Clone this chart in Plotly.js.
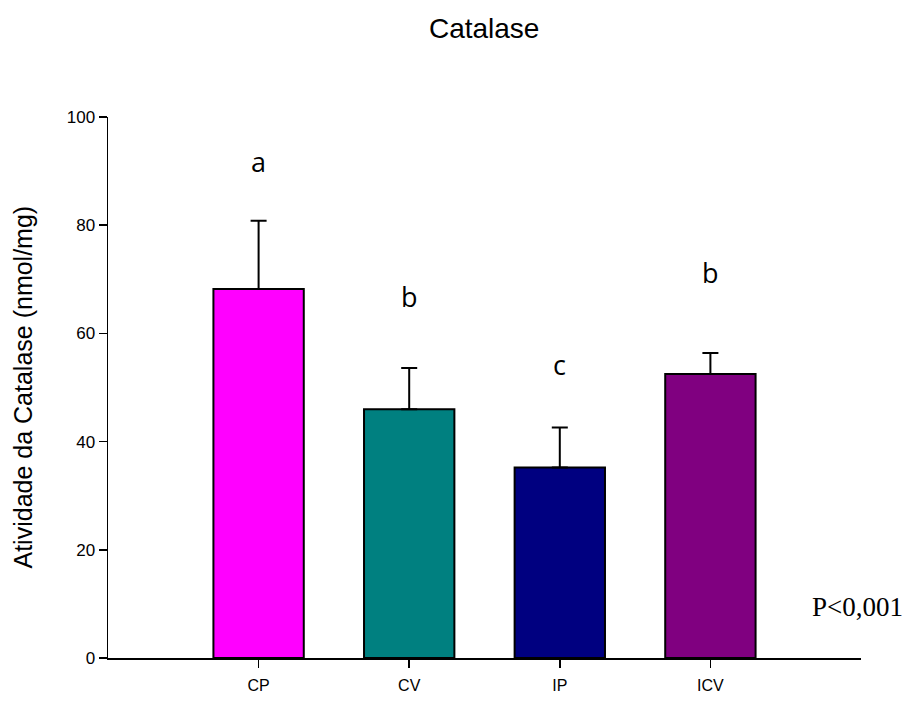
<!DOCTYPE html>
<html>
<head>
<meta charset="utf-8">
<script src="https://cdn.plot.ly/plotly-3.0.1.min.js"></script>
<style>
  html, body { margin: 0; padding: 0; background: #fff; }
  #chart { width: 905px; height: 703px; }
</style>
</head>
<body>
<div id="chart"></div>
<script>
// Catalase activity per group (mean and upper error)
const groups = ['CP', 'CV', 'IP', 'ICV'];
const activity = [68.2, 46.0, 35.2, 52.5];
const errorUp = [12.6, 7.6, 7.4, 3.9];
const barColors = ['#FF00FF', '#008080', '#000080', '#800080'];
const letters = ['a', 'b', 'c', 'b'];
const letterHeights = [91.7, 66.9, 54.3, 71.2];

const sans = 'Liberation Sans, Arial, sans-serif';

const trace = {
  type: 'bar',
  x: groups.map((g, i) => i),
  y: activity,
  width: 0.6,
  marker: { color: barColors, line: { color: '#000', width: 2 } },
  error_y: {
    type: 'data',
    symmetric: false,
    array: errorUp,
    arrayminus: groups.map(() => 0),
    color: '#000',
    thickness: 2,
    width: 8
  },
  hoverinfo: 'skip'
};

const annotations = letters.map((t, i) => ({
  x: i, y: letterHeights[i], xref: 'x', yref: 'y',
  text: t, showarrow: false,
  font: { family: 'Open Sans, Noto Sans, sans-serif', size: 27, color: '#000' }
}));
annotations.push({
  x: 1, y: 0.095, xref: 'paper', yref: 'paper', xanchor: 'right', yanchor: 'middle',
  xshift: 44,
  text: 'P<0,001', showarrow: false,
  font: { family: 'Liberation Serif, Times New Roman, serif', size: 27, color: '#000' }
});
// vertical axis title, placed by hand
annotations.push({
  x: -0.1142, y: 0.5, xref: 'paper', yref: 'paper', xanchor: 'center', yanchor: 'middle',
  text: 'Atividade da Catalase (nmol/mg)', textangle: -90, showarrow: false,
  font: { family: sans, size: 25, color: '#000' }
});

const layout = {
  width: 905, height: 703,
  margin: { l: 108, r: 44, t: 117, b: 45 },
  paper_bgcolor: '#fff', plot_bgcolor: '#fff',
  showlegend: false,
  title: {
    text: 'Catalase',
    font: { family: sans, size: 28, color: '#000' },
    x: 0.535, xanchor: 'center', y: 0.96, yanchor: 'middle'
  },
  xaxis: {
    range: [-1, 4],
    tickmode: 'array', tickvals: groups.map((g, i) => i), ticktext: groups,
    ticks: 'outside', ticklen: 8, tickwidth: 1.5, tickcolor: '#000',
    ticklabelstandoff: 4,
    showline: true, linecolor: '#000', linewidth: 1.5,
    showgrid: false, zeroline: false,
    tickfont: { family: sans, size: 16, color: '#000' }
  },
  yaxis: {
    range: [0, 100],
    tickvals: [0, 20, 40, 60, 80, 100],
    ticks: 'outside', ticklen: 8, tickwidth: 1.5, tickcolor: '#000',
    showline: true, linecolor: '#000', linewidth: 1.5,
    showgrid: false, zeroline: false,
    tickfont: { family: sans, size: 17, color: '#000' }
  },
  annotations: annotations
};

Plotly.newPlot('chart', [trace], layout, { displayModeBar: false, staticPlot: true });
</script>
</body>
</html>
